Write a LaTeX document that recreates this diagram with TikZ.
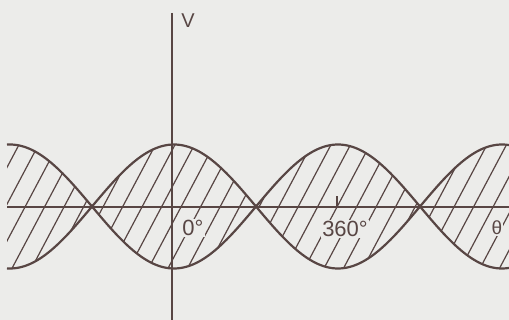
\documentclass[tikz,border=0pt]{standalone}
\usepackage{fontspec}
\setmainfont{Liberation Sans}
\begin{document}
\begin{tikzpicture}[x=1pt,y=-1pt,
  ink/.style={draw={rgb,255:red,88;green,70;blue,68}},
  curve/.style={ink,line width=2.2pt},
  axisline/.style={ink,line width=1.3pt},
  hatchline/.style={ink,line width=1.2pt},
  lbl/.style={text={rgb,255:red,88;green,70;blue,68},inner sep=1pt},
]
\definecolor{bg}{RGB}{236,236,234}
\fill[bg] (0,0) rectangle (509,320);
\useasboundingbox (0,0) rectangle (509,320);
% hatching inside lenses
\begin{scope}
  \clip plot[domain=7:509,samples=200] (\x,{206.5-62*cos(((\x-174)/164)*180)})
    -- plot[domain=509:7,samples=200] (\x,{206.5+62*cos(((\x-174)/164)*180)}) -- cycle;
  \foreach \k in {-8,...,24}
    \draw[hatchline] ({103+19.5*\k-53},307) -- ++(106,-200);
\end{scope}
% axes
\coordinate (vtop) at (172,13);
\coordinate (vbot) at (172,320);
\coordinate (hl) at (7,207);
\coordinate (hr) at (509,207);
\draw[axisline] (hl) -- (hr);
\draw[axisline] (vtop) -- (vbot);
\coordinate (tick) at (337,207);
\draw[axisline] (tick) -- ++(0,-11);
% curves
\draw[curve] plot[domain=7:509,samples=200] (\x,{206.5-62*cos(((\x-174)/164)*180)});
\draw[curve] plot[domain=7:509,samples=200] (\x,{206.5+62*cos(((\x-174)/164)*180)});
% labels
\node[lbl,font=\fontsize{20}{20}\selectfont] (V) at (188,21) {V};
\node[lbl,fill=bg,font=\fontsize{22}{22}\selectfont] (zero) at (193,228) {0°};
\node[lbl,fill=bg,font=\fontsize{22}{22}\selectfont] (ninety) at (345,229) {360°};
\node[lbl,fill=bg,font=\fontsize{19}{19}\selectfont] (theta) at (497,228) {θ};
\end{tikzpicture}
\end{document}
